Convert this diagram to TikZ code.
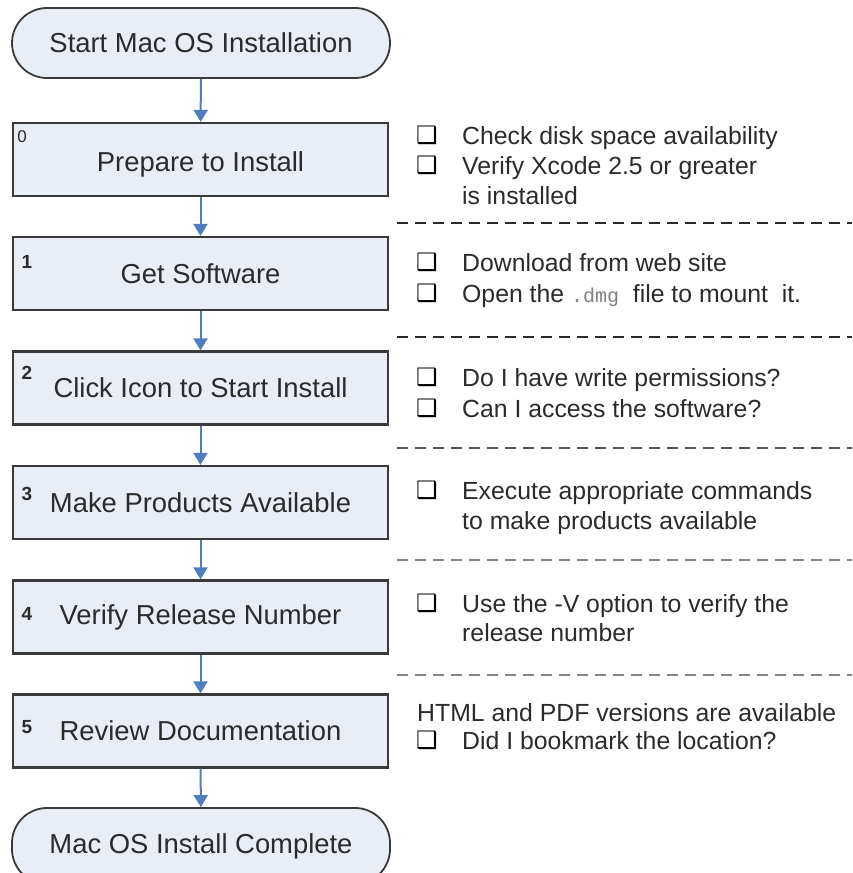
\documentclass[tikz,border=0pt]{standalone}
\usepackage{fontspec}
\setmainfont{Liberation Sans}
\newfontfamily\dejavu{DejaVu Sans}
\newfontfamily\courfont{Liberation Mono}
\usetikzlibrary{arrows.meta}
\definecolor{boxfill}{HTML}{E8EDF6}
\definecolor{boxdraw}{HTML}{3A3A3A}
\definecolor{arrowblue}{HTML}{4F7DC0}
\definecolor{txt}{HTML}{2B2B2B}
\definecolor{dashA}{HTML}{2A2A2A}
\definecolor{dashB}{HTML}{555555}
\definecolor{dashC}{HTML}{858585}
\begin{document}
\begin{tikzpicture}[x=1pt,y=-1pt,
  stepbox/.style={draw=boxdraw, line width=2.2pt, fill=boxfill,
    minimum width=375pt, minimum height=73pt, inner sep=0pt,
    font=\fontsize{27.4}{30}\selectfont, text=txt},
  termbox/.style={draw=boxdraw, line width=1.8pt, fill=boxfill,
    rounded corners=35pt, minimum width=378pt, minimum height=70pt,
    inner sep=0pt, font=\fontsize{27.4}{30}\selectfont, text=txt},
  stepnum/.style={font=\fontsize{19}{20}\selectfont\bfseries, text=txt, inner sep=0pt},
  flow/.style={draw=arrowblue, line width=2pt,
    -{Triangle[width=14pt,length=12pt]}, arrowblue},
  note/.style={anchor=base west, inner sep=0pt, text=txt,
    font=\fontsize{24.8}{28}\selectfont},
  cbox/.style={inner sep=0pt, text=black, font=\dejavu\fontsize{24}{25}\selectfont},
  sep/.style={line width=1.6pt, dash pattern=on 11pt off 7pt}
]
\useasboundingbox (0,0) rectangle (852,873);
\fill[white] (0,0) rectangle (852,873);

% flow nodes
\node[termbox] (start) at (201,43) {Start Mac OS Installation};
\node[stepbox, text height=30pt, text depth=6pt] (s0) at (200.5,159.5) {Prepare to Install};
\node[stepbox] (s1) at (200.5,273.5) {Get Software};
\node[stepbox] (s2) at (200.5,388) {Click Icon to Start Install};
\node[stepbox] (s3) at (200.5,502.5) {Make Products Available};
\node[stepbox] (s4) at (200.5,617) {Verify Release Number};
\node[stepbox] (s5) at (200.5,731) {Review Documentation};
\node[termbox, minimum height=76pt] (finish) at (201,846) {Mac OS Install Complete};

% step numbers
\node[stepnum, font=\fontsize{17}{18}\selectfont] (n0) at (22,137) {0};
\node[stepnum] (n1) at (27,262) {1};
\node[stepnum] (n2) at (27,373) {2};
\node[stepnum] (n3) at (27,494) {3};
\node[stepnum] (n4) at (27,614) {4};
\node[stepnum] (n5) at (27,727) {5};

% connectors
\draw[flow] (start) -- (s0);
\draw[flow] (s0) -- (s1);
\draw[flow] (s1) -- (s2);
\draw[flow] (s2) -- (s3);
\draw[flow] (s3) -- (s4);
\draw[flow] (s4) -- (s5);
\draw[flow] (s5) -- (finish);

% separators
\draw[sep, dashA] (397,223) -- (852,223);
\draw[sep, dashA] (397,337) -- (852,337);
\draw[sep, dashB] (397,448) -- (852,448);
\draw[sep, dashC] (397,560) -- (852,560);
\draw[sep, dashC] (397,675) -- (852,675);

% notes step 0
\node[cbox] (c0a) at (427,135) {❑};
\node[note] (t0a) at (462,144) {Check disk space availability};
\node[cbox] (c0b) at (427,165) {❑};
\node[note] (t0b) at (462,174) {Verify Xcode 2.5 or greater};
\node[note] (t0c) at (462,204) {is installed};

% notes step 1
\node[cbox] (c1a) at (427,262) {❑};
\node[note] (t1a) at (462,271) {Download from web site};
\node[cbox] (c1b) at (427,293) {❑};
\node[note] (t1b) at (462,302) {Open the {\courfont\fontsize{20}{22}\selectfont\color{gray}.dmg}\ \ file to mount\ \ it.};

% notes step 2
\node[cbox] (c2a) at (427,377) {❑};
\node[note] (t2a) at (462,386) {Do I have write permissions?};
\node[cbox] (c2b) at (427,408) {❑};
\node[note] (t2b) at (462,417) {Can I access the software?};

% notes step 3
\node[cbox] (c3a) at (427,490) {❑};
\node[note] (t3a) at (462,499) {Execute appropriate commands};
\node[note] (t3b) at (462,529) {to make products available};

% notes step 4
\node[cbox] (c4a) at (427,603) {❑};
\node[note] (t4a) at (462,612) {Use the -V option to verify the};
\node[note] (t4b) at (462,641) {release number};

% notes step 5
\node[note] (t5a) at (417,721) {HTML and PDF versions are available};
\node[cbox] (c5a) at (427,740) {❑};
\node[note] (t5b) at (462,749) {Did I bookmark the location?};
\end{tikzpicture}
\end{document}
